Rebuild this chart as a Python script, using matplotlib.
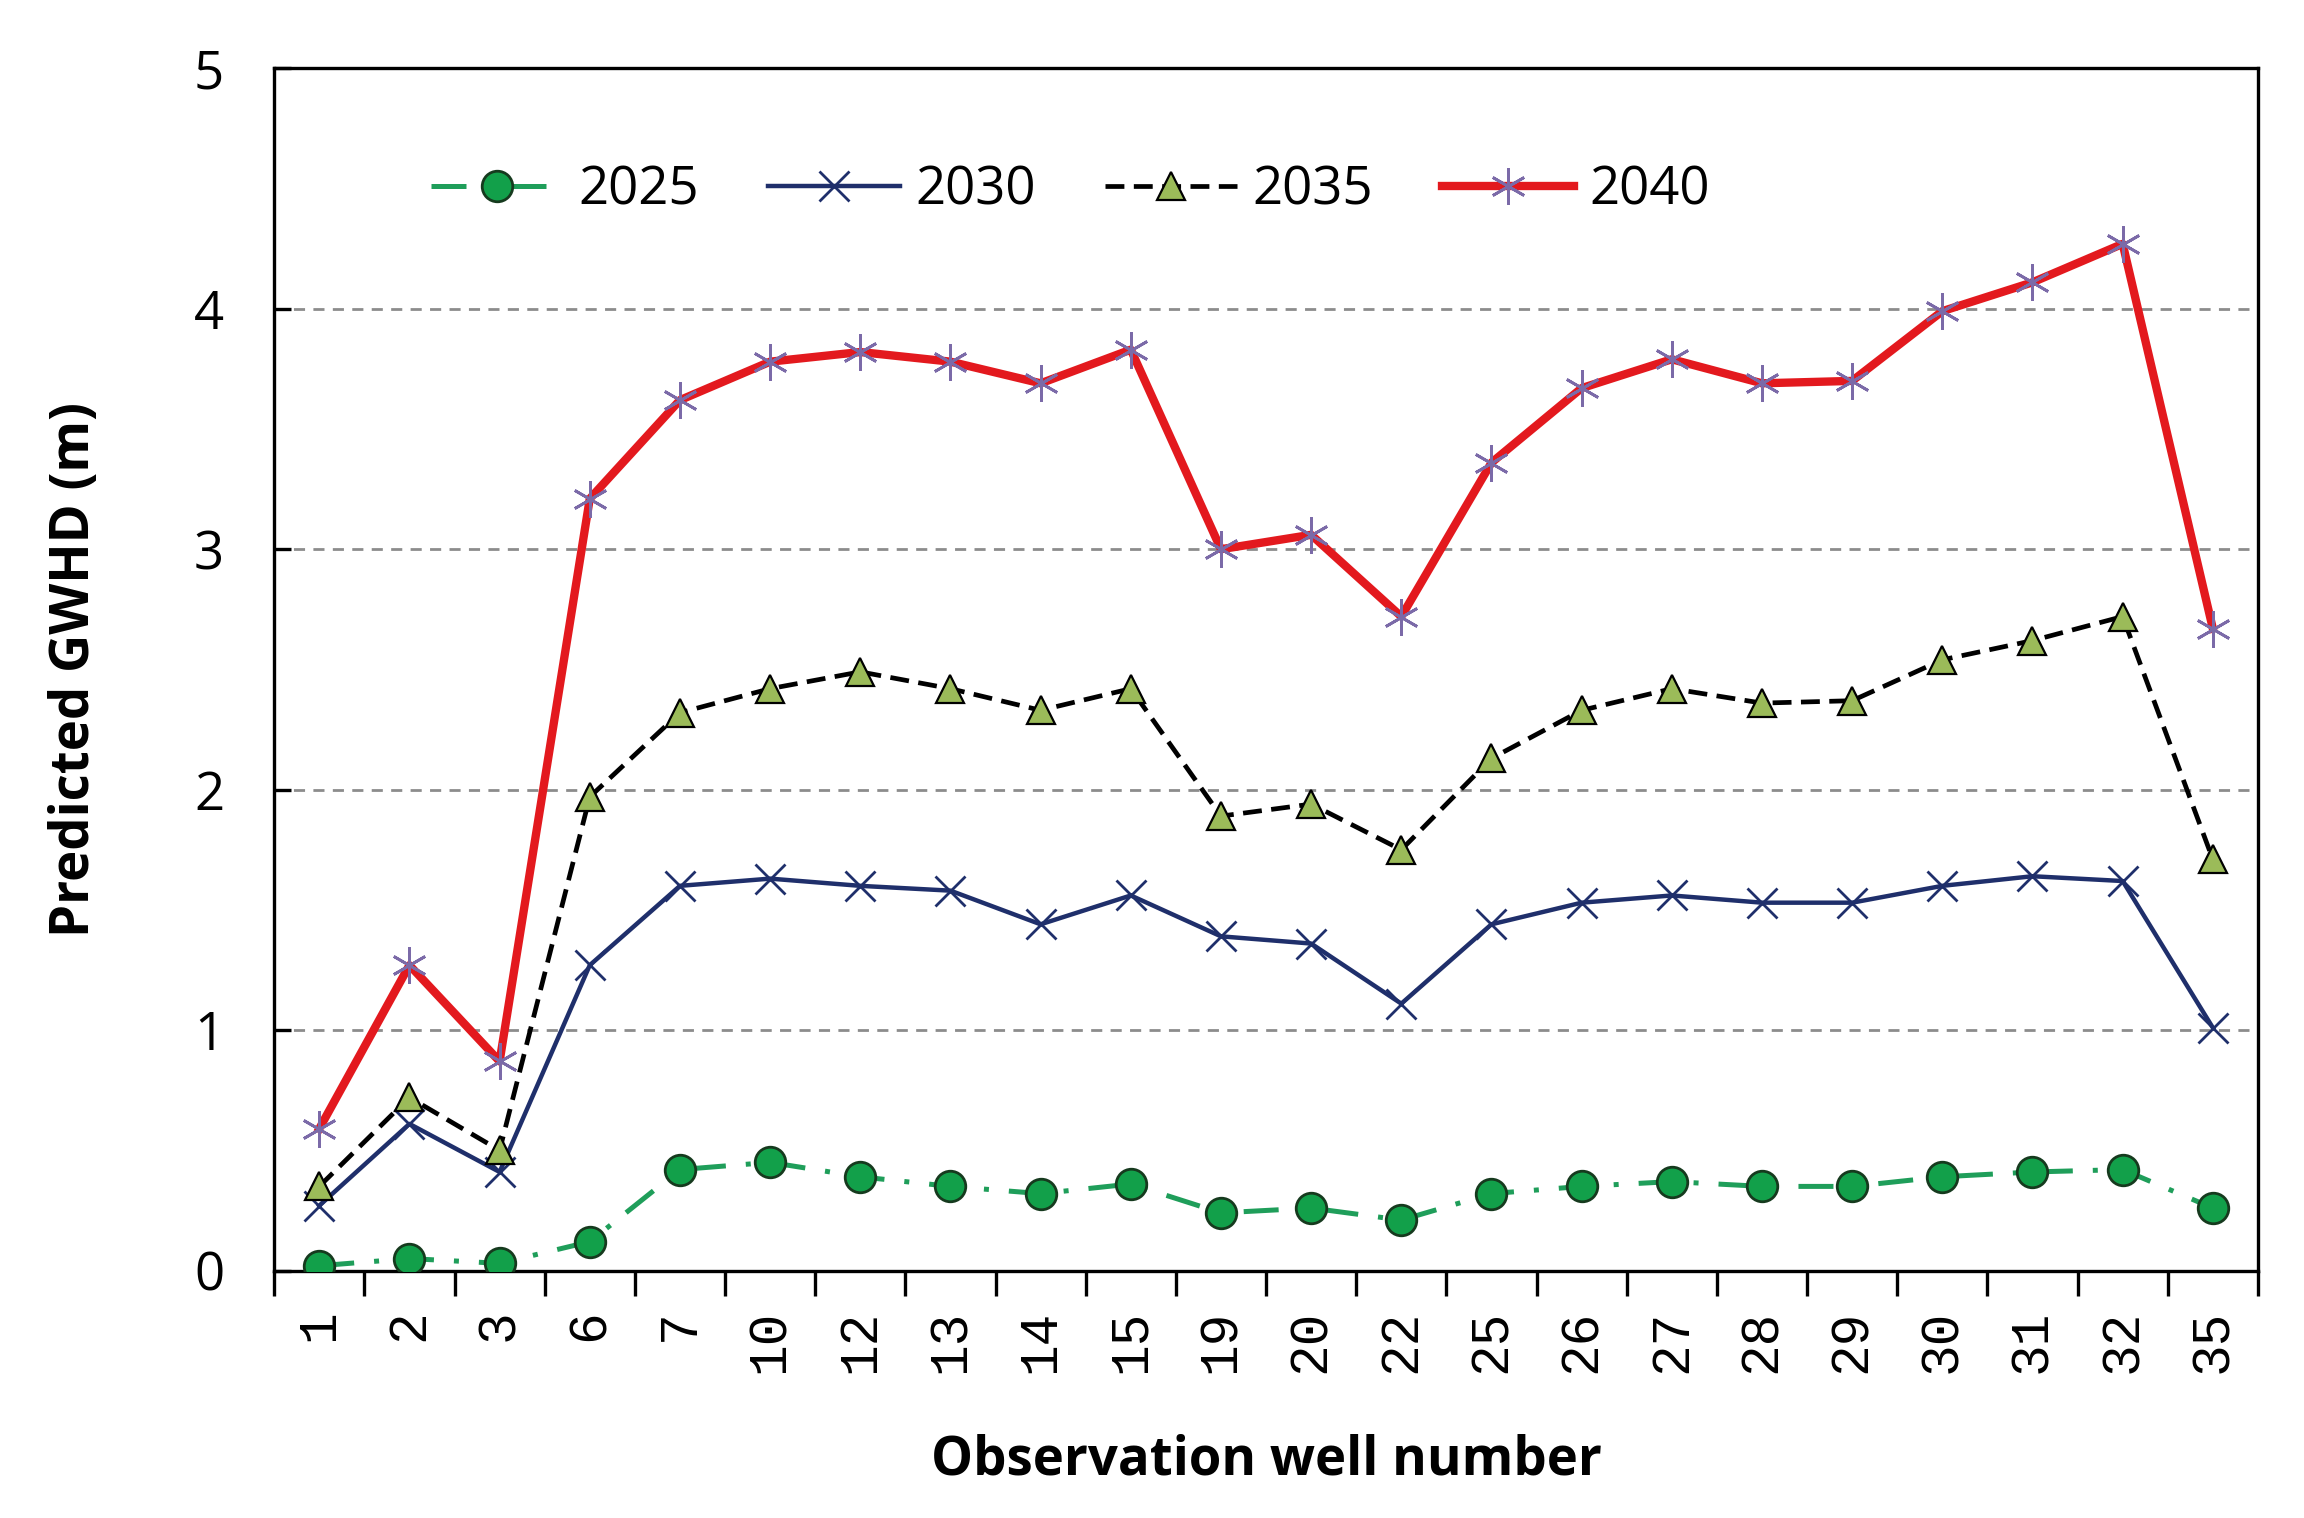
import matplotlib
matplotlib.use("Agg")
import matplotlib.pyplot as plt
import numpy as np

wells = ["1", "2", "3", "6", "7", "10", "12", "13", "14", "15", "19", "20",
         "22", "25", "26", "27", "28", "29", "30", "31", "32", "35"]
y2025 = [0.02, 0.05, 0.03, 0.12, 0.42, 0.45, 0.39, 0.35, 0.32, 0.36, 0.24, 0.26,
         0.21, 0.32, 0.35, 0.37, 0.35, 0.35, 0.39, 0.41, 0.42, 0.26]
y2030 = [0.27, 0.61, 0.41, 1.27, 1.60, 1.63, 1.60, 1.58, 1.44, 1.56, 1.39, 1.36,
         1.11, 1.44, 1.53, 1.56, 1.53, 1.53, 1.60, 1.64, 1.62, 1.01]
y2035 = [0.35, 0.72, 0.50, 1.97, 2.32, 2.42, 2.49, 2.42, 2.33, 2.42, 1.89, 1.94,
         1.75, 2.13, 2.33, 2.42, 2.36, 2.37, 2.54, 2.62, 2.72, 1.71]
y2040 = [0.59, 1.27, 0.87, 3.21, 3.62, 3.78, 3.82, 3.78, 3.69, 3.83, 3.00, 3.06,
         2.72, 3.36, 3.67, 3.79, 3.69, 3.70, 3.99, 4.11, 4.27, 2.67]
y_ticks = [0, 1, 2, 3, 4, 5]

fig = plt.figure(figsize=(11.52, 7.59), dpi=200)
ax = fig.add_axes([0.119, 0.163, 0.861, 0.792])

x = np.arange(len(wells))
ax.plot(x, y2025, color="#1f9e5a", lw=1.8, ls=(0, (7, 4, 1, 4)), marker="o",
        ms=11, mfc="#12a04a", mec="#163a1e", mew=1.0, label="2025", zorder=3)
ax.plot(x, y2030, color="#1f2f6b", lw=1.6, ls="-", marker="x", ms=11,
        mec="#1f2f6b", mew=1.0, label="2030", zorder=4)
ax.plot(x, y2035, color="black", lw=1.7, ls=(0, (4, 2)), marker="^", ms=10,
        mfc="#9bbb59", mec="black", mew=0.8, label="2035", zorder=5)
ax.plot(x, y2040, color="#e3191e", lw=3.0, ls="-", marker=(6, 2, 0), ms=13,
        mec="#7b6aa8", mew=1.0, label="2040", zorder=6)

ax.set_xlim(-0.5, len(wells) - 0.5)
ax.set_ylim(0, 5)
ax.set_yticks(y_ticks)
ax.set_yticklabels([str(v) for v in y_ticks], fontsize=19, family="Open Sans")
ax.tick_params(axis="y", direction="in", length=6, width=1.2, pad=18)

ax.set_xticks(x)
ax.set_xticklabels(wells, rotation=90, fontsize=19, family="Liberation Mono")
ax.set_xticks(np.arange(len(wells) + 1) - 0.5, minor=True)
ax.tick_params(axis="x", which="major", length=0, pad=14)
ax.tick_params(axis="x", which="minor", direction="out", length=9, width=1.2)

for v in [1, 2, 3, 4]:
    ax.axhline(v, color="#8c8c8c", lw=1.0, ls=(0, (4, 3)), zorder=1)

for s in ax.spines.values():
    s.set_linewidth(1.2)
    s.set_color("black")

ax.set_xlabel("Observation well number", fontsize=19, fontweight="bold",
              family="Open Sans", labelpad=22)
ax.set_ylabel("Predicted GWHD (m)", fontsize=19, fontweight="bold",
              family="Open Sans", labelpad=33)

leg = ax.legend(loc="upper left", bbox_to_anchor=(0.055, 0.96), ncol=4,
                frameon=False, handlelength=2.5, columnspacing=1.3,
                handletextpad=0.3, prop={"family": "Open Sans", "size": 19})

fig.savefig("out.png", dpi=200)
